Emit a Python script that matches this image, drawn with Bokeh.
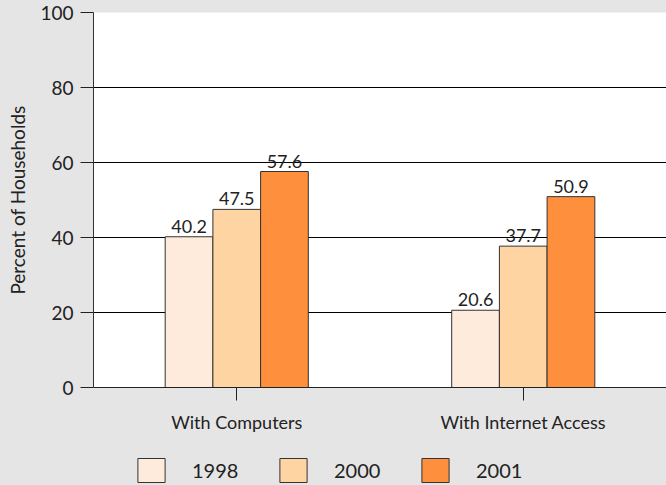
from bokeh.plotting import figure
from bokeh.layouts import column
from bokeh.models import FactorRange, Range1d, Legend, LegendItem, ColumnDataSource
from bokeh.transform import dodge
from bokeh.core.properties import value
from bokeh.embed import file_html
from bokeh.resources import INLINE

# ---- data ----
categories = ["With Computers", "With Internet Access"]
years = ["1998", "2000", "2001"]
v1998 = [40.2, 20.6]
v2000 = [47.5, 37.7]
v2001 = [57.6, 50.9]
y_ticks = [0, 20, 40, 60, 80, 100]

colors = ["#FEEBDC", "#FED5A2", "#FE8F3D"]
FONT = "Lato"
TXT = "#222222"
BG = "#e5e5e5"

series = {"1998": v1998, "2000": v2000, "2001": v2001}
data = {"cat": categories}
for yr in years:
    data["y" + yr] = series[yr]
    data["t" + yr] = [f"{v:.1f}" for v in series[yr]]
src = ColumnDataSource(data)

p = figure(x_range=FactorRange(factors=categories, range_padding=0),
           y_range=Range1d(0, 100),
           width=666, height=455,
           output_backend="svg", toolbar_location=None,
           min_border_left=93, min_border_right=0,
           min_border_top=12, min_border_bottom=68)

p.border_fill_color = BG
p.background_fill_color = "white"
p.outline_line_color = None

bw = 0.1665
offsets = [-bw, 0.0, bw]
for i, yr in enumerate(years):
    p.vbar(x=dodge("cat", offsets[i], range=p.x_range), top="y" + yr,
           width=bw, source=src, fill_color=colors[i],
           line_color="#333333", line_width=1)
    p.text(x=dodge("cat", offsets[i], range=p.x_range), y="y" + yr,
           text="t" + yr, source=src, text_align="center",
           text_baseline="bottom", y_offset=-4,
           text_font=value(FONT), text_font_size="18px", text_color=TXT)

# axes
p.yaxis.ticker = y_ticks
p.yaxis.major_tick_out = 13
p.yaxis.major_tick_in = 0
p.yaxis.minor_tick_line_color = None
p.yaxis.axis_line_color = "#333333"
p.yaxis.major_tick_line_color = "#222222"
p.yaxis.major_label_text_font = FONT
p.yaxis.major_label_text_font_size = "19px"
p.yaxis.major_label_text_color = TXT
p.yaxis.major_label_standoff = 7
p.yaxis.axis_label = "Percent of Households"
p.yaxis.axis_label_text_font = FONT
p.yaxis.axis_label_text_font_size = "19px"
p.yaxis.axis_label_text_font_style = "normal"
p.yaxis.axis_label_text_color = TXT
p.yaxis.axis_label_standoff = 8

p.xaxis.major_tick_out = 13
p.xaxis.major_tick_in = 0
p.xaxis.axis_line_color = "#222222"
p.xaxis.major_tick_line_color = "#222222"
p.xaxis.major_label_text_font = FONT
p.xaxis.major_label_text_font_size = "18px"
p.xaxis.major_label_text_color = TXT
p.xaxis.major_label_standoff = 10

p.xgrid.grid_line_color = None
p.ygrid.ticker = y_ticks
p.ygrid.grid_line_color = "black"
p.ygrid.grid_line_width = 1

# ---- legend strip (separate figure, no axes; its frame aligns with the main frame) ----
lg = figure(width=666, height=30, x_range=Range1d(0, 1), y_range=Range1d(0, 1),
            output_backend="svg", toolbar_location=None,
            min_border_left=0, min_border_right=0, min_border_top=0, min_border_bottom=0)
lg.axis.visible = False
lg.grid.visible = False
lg.outline_line_color = None
lg.background_fill_color = BG
lg.border_fill_color = BG
items = []
for i, yr in enumerate(years):
    # swatch renderer: same data, falls outside this strip's 0..1 range so only the legend shows
    r = lg.vbar(x="y" + yr, top="y" + yr, width=0.1, source=src, fill_color=colors[i],
                line_color="#333333", line_width=1)
    items.append(LegendItem(label=yr, renderers=[r]))
legend = Legend(items=items, orientation="horizontal", location=(41, 0),
                glyph_width=34, glyph_height=30, label_standoff=24,
                label_width=84, spacing=0, padding=0, margin=0,
                border_line_color=None, background_fill_alpha=0,
                label_text_font=FONT, label_text_font_size="20px",
                label_text_color=TXT)
lg.add_layout(legend, "center")

layout = column(p, lg, spacing=0)

html = file_html(layout, INLINE)
html = html.replace("</head>",
                    "<style>html,body{margin:0;padding:0;background:%s;overflow:hidden;}</style></head>" % BG, 1)
with open("out.html", "w") as f:
    f.write(html)
